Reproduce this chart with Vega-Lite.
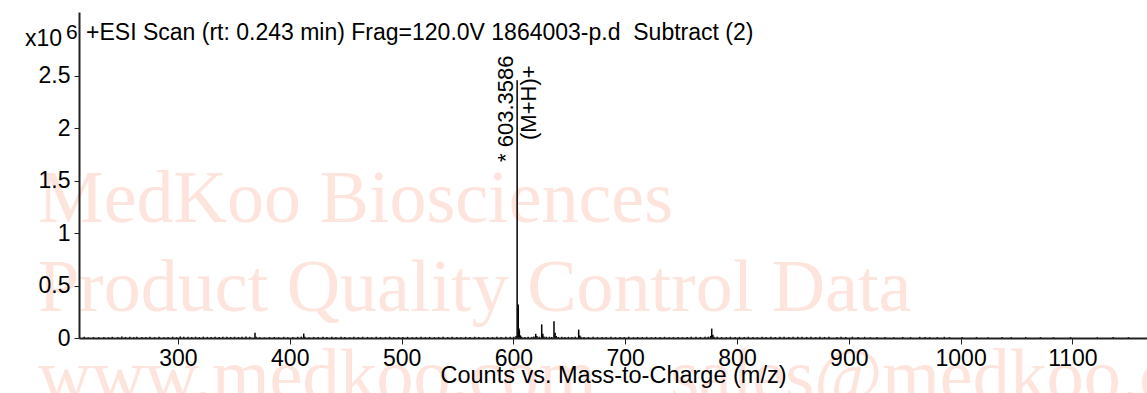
{
  "$schema": "https://vega.github.io/schema/vega-lite/v6.json",
  "autosize": {"type": "none"},
  "padding": {"left": 79, "top": 12, "right": 0, "bottom": 55},
  "width": 1068,
  "height": 326,
  "background": "white",
  "config": {"view": {"stroke": null}, "font": "Liberation Sans"},
  "datasets": {
    "spec": [
      {"mz": 216.2, "i": 0.012}, {"mz": 219.8, "i": 0.006}, {"mz": 224.5, "i": 0.009}, {"mz": 229.1, "i": 0.008},
      {"mz": 233.7, "i": 0.01}, {"mz": 237.9, "i": 0.007}, {"mz": 241.3, "i": 0.011}, {"mz": 246.2, "i": 0.009},
      {"mz": 249.8, "i": 0.014}, {"mz": 253.1, "i": 0.01}, {"mz": 256.9, "i": 0.013}, {"mz": 260.4, "i": 0.008},
      {"mz": 263.2, "i": 0.012}, {"mz": 267.8, "i": 0.01}, {"mz": 271.3, "i": 0.009}, {"mz": 274.9, "i": 0.013},
      {"mz": 279.2, "i": 0.008}, {"mz": 283.1, "i": 0.011}, {"mz": 287.5, "i": 0.007}, {"mz": 291.2, "i": 0.009},
      {"mz": 295.3, "i": 0.012}, {"mz": 298.7, "i": 0.008}, {"mz": 302.1, "i": 0.015}, {"mz": 305.2, "i": 0.011},
      {"mz": 308.9, "i": 0.013}, {"mz": 312.3, "i": 0.01}, {"mz": 315.8, "i": 0.012}, {"mz": 319.1, "i": 0.009},
      {"mz": 322.7, "i": 0.013}, {"mz": 326.3, "i": 0.011}, {"mz": 329.8, "i": 0.01}, {"mz": 333.2, "i": 0.012},
      {"mz": 336.9, "i": 0.009}, {"mz": 340.2, "i": 0.011}, {"mz": 343.8, "i": 0.013}, {"mz": 347.1, "i": 0.01},
      {"mz": 350.6, "i": 0.012}, {"mz": 354.2, "i": 0.009}, {"mz": 357.3, "i": 0.011}, {"mz": 360.8, "i": 0.014},
      {"mz": 364.2, "i": 0.012}, {"mz": 368.9, "i": 0.05}, {"mz": 369.9, "i": 0.012}, {"mz": 373.2, "i": 0.008},
      {"mz": 377.4, "i": 0.007}, {"mz": 381.9, "i": 0.009}, {"mz": 386.2, "i": 0.01}, {"mz": 390.1, "i": 0.008},
      {"mz": 394.6, "i": 0.011}, {"mz": 398.3, "i": 0.007}, {"mz": 402.8, "i": 0.009}, {"mz": 407.1, "i": 0.012},
      {"mz": 410.3, "i": 0.013}, {"mz": 412.5, "i": 0.042}, {"mz": 413.5, "i": 0.012}, {"mz": 417.2, "i": 0.008},
      {"mz": 421.4, "i": 0.01}, {"mz": 425.3, "i": 0.009}, {"mz": 429.7, "i": 0.012}, {"mz": 433.2, "i": 0.01},
      {"mz": 437.6, "i": 0.011}, {"mz": 441.3, "i": 0.009}, {"mz": 445.8, "i": 0.012}, {"mz": 449.2, "i": 0.01},
      {"mz": 453.7, "i": 0.008}, {"mz": 457.3, "i": 0.011}, {"mz": 461.4, "i": 0.009}, {"mz": 465.2, "i": 0.012},
      {"mz": 469.6, "i": 0.01}, {"mz": 473.1, "i": 0.008}, {"mz": 477.3, "i": 0.011}, {"mz": 481.2, "i": 0.009},
      {"mz": 485.6, "i": 0.01}, {"mz": 489.3, "i": 0.012}, {"mz": 493.1, "i": 0.008}, {"mz": 497.4, "i": 0.01},
      {"mz": 501.2, "i": 0.009}, {"mz": 505.3, "i": 0.011}, {"mz": 509.6, "i": 0.008}, {"mz": 513.2, "i": 0.01},
      {"mz": 517.4, "i": 0.012}, {"mz": 521.3, "i": 0.009}, {"mz": 525.1, "i": 0.011}, {"mz": 529.4, "i": 0.008},
      {"mz": 533.2, "i": 0.01}, {"mz": 537.1, "i": 0.012}, {"mz": 541.3, "i": 0.009}, {"mz": 545.2, "i": 0.011},
      {"mz": 549.4, "i": 0.01}, {"mz": 553.1, "i": 0.008}, {"mz": 557.3, "i": 0.011}, {"mz": 561.2, "i": 0.009},
      {"mz": 565.4, "i": 0.012}, {"mz": 569.1, "i": 0.01}, {"mz": 573.3, "i": 0.008}, {"mz": 577.2, "i": 0.01},
      {"mz": 581.4, "i": 0.009}, {"mz": 585.2, "i": 0.012}, {"mz": 589.1, "i": 0.01}, {"mz": 593.3, "i": 0.011},
      {"mz": 597.2, "i": 0.013}, {"mz": 600.3, "i": 0.012}, {"mz": 602.4, "i": 0.02}, {"mz": 603.36, "i": 2.46},
      {"mz": 604.36, "i": 0.32}, {"mz": 605.1, "i": 0.09}, {"mz": 605.36, "i": 0.07}, {"mz": 606.3, "i": 0.025},
      {"mz": 607.4, "i": 0.012}, {"mz": 610.3, "i": 0.01}, {"mz": 613.2, "i": 0.012}, {"mz": 616.4, "i": 0.011},
      {"mz": 618.3, "i": 0.015}, {"mz": 620.0, "i": 0.04}, {"mz": 621.0, "i": 0.018}, {"mz": 623.2, "i": 0.012},
      {"mz": 625.34, "i": 0.13}, {"mz": 626.34, "i": 0.04}, {"mz": 627.3, "i": 0.015}, {"mz": 629.4, "i": 0.011},
      {"mz": 632.2, "i": 0.012}, {"mz": 634.3, "i": 0.01}, {"mz": 636.32, "i": 0.16}, {"mz": 637.32, "i": 0.05},
      {"mz": 638.3, "i": 0.018}, {"mz": 640.2, "i": 0.01}, {"mz": 643.3, "i": 0.012}, {"mz": 646.1, "i": 0.009},
      {"mz": 649.2, "i": 0.011}, {"mz": 652.4, "i": 0.01}, {"mz": 655.3, "i": 0.012}, {"mz": 658.4, "i": 0.08},
      {"mz": 659.4, "i": 0.025}, {"mz": 660.4, "i": 0.012}, {"mz": 663.2, "i": 0.01}, {"mz": 667.1, "i": 0.009},
      {"mz": 671.3, "i": 0.011}, {"mz": 675.2, "i": 0.008}, {"mz": 679.4, "i": 0.01}, {"mz": 683.1, "i": 0.009},
      {"mz": 687.3, "i": 0.011}, {"mz": 691.2, "i": 0.008}, {"mz": 695.4, "i": 0.01}, {"mz": 699.1, "i": 0.009},
      {"mz": 703.2, "i": 0.011}, {"mz": 707.4, "i": 0.008}, {"mz": 711.1, "i": 0.01}, {"mz": 715.3, "i": 0.009},
      {"mz": 719.2, "i": 0.011}, {"mz": 723.4, "i": 0.008}, {"mz": 727.1, "i": 0.01}, {"mz": 731.3, "i": 0.009},
      {"mz": 735.2, "i": 0.011}, {"mz": 739.4, "i": 0.008}, {"mz": 743.1, "i": 0.01}, {"mz": 747.3, "i": 0.009},
      {"mz": 751.2, "i": 0.008}, {"mz": 755.4, "i": 0.01}, {"mz": 759.1, "i": 0.012}, {"mz": 763.3, "i": 0.011},
      {"mz": 767.2, "i": 0.01}, {"mz": 771.4, "i": 0.013}, {"mz": 774.3, "i": 0.012}, {"mz": 776.4, "i": 0.02},
      {"mz": 777.4, "i": 0.09}, {"mz": 778.4, "i": 0.03}, {"mz": 779.4, "i": 0.012}, {"mz": 782.3, "i": 0.011},
      {"mz": 786.2, "i": 0.01}, {"mz": 790.4, "i": 0.009}, {"mz": 794.1, "i": 0.012}, {"mz": 798.3, "i": 0.01},
      {"mz": 802.2, "i": 0.011}, {"mz": 806.4, "i": 0.009}, {"mz": 810.1, "i": 0.012}, {"mz": 814.3, "i": 0.01},
      {"mz": 818.2, "i": 0.008}, {"mz": 822.4, "i": 0.011}, {"mz": 826.1, "i": 0.009}, {"mz": 830.3, "i": 0.012},
      {"mz": 834.2, "i": 0.01}, {"mz": 838.4, "i": 0.011}, {"mz": 842.1, "i": 0.013}, {"mz": 846.3, "i": 0.01},
      {"mz": 850.2, "i": 0.012}, {"mz": 854.4, "i": 0.011}, {"mz": 858.1, "i": 0.013}, {"mz": 862.3, "i": 0.01},
      {"mz": 866.2, "i": 0.012}, {"mz": 870.4, "i": 0.009}, {"mz": 874.1, "i": 0.011}, {"mz": 878.3, "i": 0.01},
      {"mz": 882.2, "i": 0.012}, {"mz": 889.4, "i": 0.009}, {"mz": 893.1, "i": 0.011}, {"mz": 897.3, "i": 0.01},
      {"mz": 903.2, "i": 0.012}, {"mz": 908.4, "i": 0.009}, {"mz": 914.1, "i": 0.011}, {"mz": 919.3, "i": 0.008},
      {"mz": 925.2, "i": 0.01}, {"mz": 932.4, "i": 0.009}, {"mz": 940.1, "i": 0.008}, {"mz": 948.3, "i": 0.01},
      {"mz": 955.2, "i": 0.009}, {"mz": 963.4, "i": 0.011}, {"mz": 968.1, "i": 0.01}, {"mz": 972.3, "i": 0.008},
      {"mz": 979.2, "i": 0.009}, {"mz": 985.4, "i": 0.011}, {"mz": 990.1, "i": 0.008}, {"mz": 1001.3, "i": 0.009},
      {"mz": 1014.2, "i": 0.01}, {"mz": 1024.4, "i": 0.008}, {"mz": 1037.1, "i": 0.009}, {"mz": 1045.3, "i": 0.008},
      {"mz": 1058.2, "i": 0.01}, {"mz": 1071.4, "i": 0.009}, {"mz": 1083.1, "i": 0.008}, {"mz": 1098.3, "i": 0.009},
      {"mz": 1122.2, "i": 0.008}, {"mz": 1136.4, "i": 0.01}, {"mz": 1150.1, "i": 0.009}
    ],
    "wm": [
      {"mz": 174.8, "v": 1.1066, "t": "MedKoo Biosciences"},
      {"mz": 174.8, "v": 0.2576, "t": "Product Quality Control Data"},
      {"mz": 174.8, "v": -0.5914, "t": "www.medkoo.com\u00a0\u00a0\u00a0\u00a0sales@medkoo.com"}
    ],
    "annLeft": [
      {"mz": 217.8, "v": 2.843, "t": "+ESI Scan (rt: 0.243 min) Frag=120.0V 1864003-p.d\u00a0 Subtract (2)", "a": 0, "fs": 23},
      {"mz": 199.9, "v": 2.852, "t": "6", "a": 0, "fs": 21},
      {"mz": 599.7, "v": 1.679, "t": "* 603.3586", "a": 270, "fs": 22},
      {"mz": 620.3, "v": 1.889, "t": "(M+H)+", "a": 270, "fs": 22}
    ],
    "annRight": [
      {"mz": 196.3, "v": 2.786, "t": "x10", "fs": 23}
    ]
  },
  "layer": [
    {
      "data": {"name": "wm"},
      "mark": {"type": "text", "font": "Liberation Serif", "fontSize": 74, "color": "#fde4dc", "align": "left", "baseline": "alphabetic"},
      "encoding": {
        "x": {"field": "mz", "type": "quantitative", "scale": {"domain": [211.5, 1166.7], "nice": false, "zero": false},
          "axis": {"values": [300, 400, 500, 600, 700, 800, 900, 1000, 1100], "format": "d", "grid": false, "zindex": 1,
            "labelFontSize": 23, "labelColor": "black", "labelPadding": 3, "tickColor": "#222", "tickSize": 6,
            "domainColor": "#222", "domainWidth": 2, "title": "Counts vs. Mass-to-Charge (m/z)",
            "titleFontSize": 23.5, "titleFontWeight": "normal", "titleColor": "black", "titlePadding": -7}},
        "y": {"field": "v", "type": "quantitative", "scale": {"domain": [0, 3.11], "nice": false, "zero": true},
          "axis": {"values": [0, 0.5, 1, 1.5, 2, 2.5], "format": "~g", "grid": false, "title": null, "zindex": 1,
            "labelFontSize": 23, "labelColor": "black", "labelPadding": 4, "tickColor": "#222", "tickSize": 5,
            "domainColor": "#222", "domainWidth": 2}},
        "text": {"field": "t"}
      }
    },
    {
      "data": {"name": "spec"},
      "mark": {"type": "rule", "color": "black", "strokeWidth": 1.5, "clip": true},
      "encoding": {
        "x": {"field": "mz", "type": "quantitative"},
        "y": {"field": "i", "type": "quantitative"},
        "y2": {"datum": 0}
      }
    },
    {
      "mark": {"type": "rule", "color": "#333", "strokeWidth": 2},
      "encoding": {"y": {"datum": 3.11}}
    },
    {
      "data": {"name": "annLeft"},
      "mark": {"type": "text", "baseline": "alphabetic", "align": "left", "color": "black"},
      "encoding": {
        "x": {"field": "mz", "type": "quantitative"},
        "y": {"field": "v", "type": "quantitative"},
        "text": {"field": "t"},
        "angle": {"field": "a", "type": "quantitative", "scale": null},
        "size": {"field": "fs", "type": "quantitative", "scale": null}
      }
    },
    {
      "data": {"name": "annRight"},
      "mark": {"type": "text", "baseline": "alphabetic", "align": "right", "color": "black"},
      "encoding": {
        "x": {"field": "mz", "type": "quantitative"},
        "y": {"field": "v", "type": "quantitative"},
        "text": {"field": "t"},
        "size": {"field": "fs", "type": "quantitative", "scale": null}
      }
    }
  ]
}
